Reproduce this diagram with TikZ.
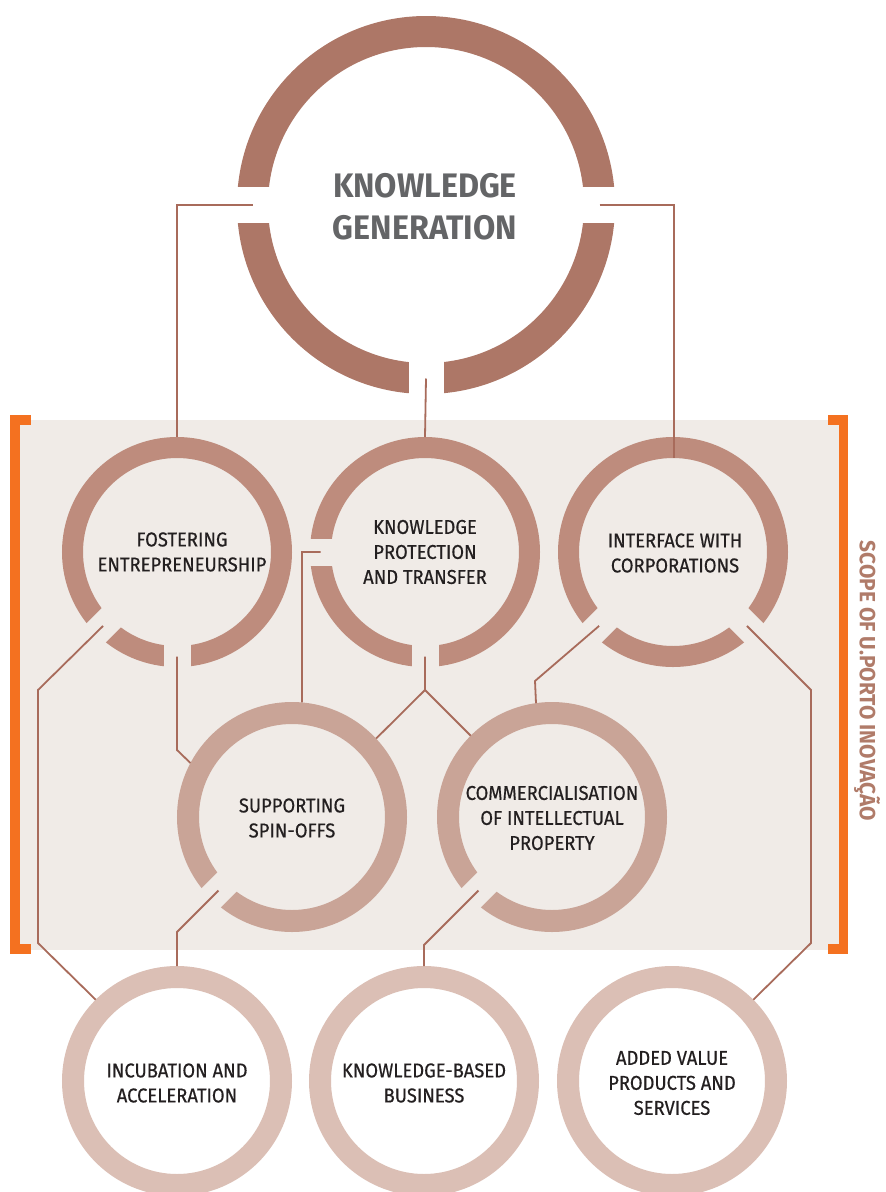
\documentclass[tikz,border=0pt]{standalone}
\usepackage{fontspec}
\setmainfont{Fira Sans}[FakeStretch=0.92, FakeBold=0.5]
\newfontfamily\scopefont{Fira Sans}[FakeStretch=0.95]
\newfontfamily\titlefont{Fira Sans}[FakeStretch=0.95]
\usetikzlibrary{calc}
\definecolor{ringA}{HTML}{AD7767}
\definecolor{ringB}{HTML}{BE8C7D}
\definecolor{ringC}{HTML}{C9A497}
\definecolor{ringD}{HTML}{DBBFB5}
\definecolor{linec}{HTML}{A86B5B}
\definecolor{bgc}{HTML}{F0EBE7}
\definecolor{orangec}{HTML}{F47120}
\definecolor{titlec}{HTML}{646567}
\definecolor{txtc}{HTML}{231F20}
\definecolor{scopec}{HTML}{B07B69}
\newcommand\ringgap[6]{\begin{scope}[shift={(#1)},rotate=#2]\fill[#6] (#3,-#5/2) rectangle (#4,#5/2);\end{scope}}
\begin{document}
\begin{tikzpicture}[x=1pt,y=1pt,
  ringtop/.style={circle, draw=ringA, line width=31pt, minimum size=347pt, inner sep=0pt, fill=white},
  ringtwo/.style={circle, draw=ringB, line width=21pt, minimum size=209pt, inner sep=0pt},
  ringthree/.style={circle, draw=ringC, line width=22pt, minimum size=208pt, inner sep=0pt},
  ringfour/.style={circle, draw=ringD, line width=22pt, minimum size=208pt, inner sep=0pt, fill=white},
  conn/.style={draw=linec, line width=1.8pt},
  lbl/.style={align=center, text=txtc, font=\fontsize{20}{25}\selectfont, inner sep=0pt},
  titletext/.style={align=center, text=titlec, font=\titlefont\bfseries\fontsize{34}{42}\selectfont, inner sep=0pt},
  scopetext/.style={text=scopec, font=\scopefont\bfseries\fontsize{22}{25}\selectfont, inner sep=0pt}]
\useasboundingbox (0,0) rectangle (886,-1192);
% background band
\fill[bgc] (20,-420) rectangle (839,-950);
% orange brackets
\fill[orangec] (10,-415) rectangle (20,-954);
\fill[orangec] (10,-415) rectangle (31,-425);
\fill[orangec] (10,-944) rectangle (31,-954);
\fill[orangec] (839,-415) rectangle (848,-954);
\fill[orangec] (828,-415) rectangle (848,-425);
\fill[orangec] (828,-944) rectangle (848,-954);
% rings
\node[ringtop] (kg) at (426,-205) {};
\node[ringtwo] (fos) at (177,-552) {};
\node[ringtwo] (kp) at (425,-552) {};
\node[ringtwo] (int) at (673,-552) {};
\node[ringthree] (sup) at (292,-817) {};
\node[ringthree] (com) at (552,-817) {};
\node[ringfour] (inc) at (177,-1081) {};
\node[ringfour] (kbb) at (424,-1081) {};
\node[ringfour] (avp) at (672,-1081) {};
% gaps in rings
\ringgap{kg}{0}{154}{193}{36}{white}
\ringgap{kg}{180}{154}{193}{36}{white}
\ringgap{kg}{270}{154}{193}{35}{white}
\ringgap{fos}{225}{90}{118}{27}{bgc}
\ringgap{fos}{270}{90}{118}{27}{bgc}
\ringgap{kp}{180}{90}{118}{27}{bgc}
\ringgap{kp}{270}{90}{118}{27}{bgc}
\ringgap{int}{225}{90}{118}{27}{bgc}
\ringgap{int}{315}{90}{118}{27}{bgc}
\ringgap{sup}{225}{90}{118}{27}{bgc}
\ringgap{com}{225}{90}{118}{27}{bgc}
% connectors
\draw[conn] ($(kg)+(180:173.5)$) -| (fos.north);
\draw[conn] ($(kg)+(0:173.5)$) -| ($(int.center)+(1,94)$);
\draw[conn] ($(kg)+(270:173.5)$) -- (kp.north);
\draw[conn] ($(fos)+(225:104.5)$) -- (38,-690) -- (38,-943) -- (inc.135);
\draw[conn] ($(fos)+(270:104.5)$) -- (177,-750) -- (sup.152);
\draw[conn] ($(kp)+(180:104.5)$) -- (302,-552) -- (sup.85);
\draw[conn] ($(kp)+(270:104.5)$) -- (425,-690) coordinate (split) -- (sup.43);
\draw[conn] (split) -- (com.135);
\draw[conn] ($(int)+(225:104.5)$) -- (535,-681) -- (com.98.5);
\draw[conn] ($(int)+(315:104.5)$) -- (811,-690) -- (811,-943) -- (avp.45);
\draw[conn] ($(sup)+(225:104)$) -- (177,-932) -- (inc.north);
\draw[conn] ($(com)+(225:104)$) -- (424,-945) -- (kbb.north);
% texts
\node[titletext] (kgt) at (425,-207) {KNOWLEDGE\\GENERATION};
\node[lbl] (fost) at (182,-552) {FOSTERING\\ENTREPRENEURSHIP};
\node[lbl] (kpt) at (425,-552) {KNOWLEDGE\\PROTECTION\\AND TRANSFER};
\node[lbl] (intt) at (675,-553) {INTERFACE WITH\\CORPORATIONS};
\node[lbl] (supt) at (292,-818) {SUPPORTING\\SPIN-OFFS};
\node[lbl] (comt) at (552,-818) {COMMERCIALISATION\\OF INTELLECTUAL\\PROPERTY};
\node[lbl] (inct) at (177,-1083) {INCUBATION AND\\ACCELERATION};
\node[lbl] (kbbt) at (424,-1083) {KNOWLEDGE-BASED\\BUSINESS};
\node[lbl] (avpt) at (672,-1083) {ADDED VALUE\\PRODUCTS AND\\SERVICES};
\node[scopetext, rotate=-90] (scope) at (867,-681) {SCOPE OF U.PORTO INOVAÇÃO};
\end{tikzpicture}
\end{document}
